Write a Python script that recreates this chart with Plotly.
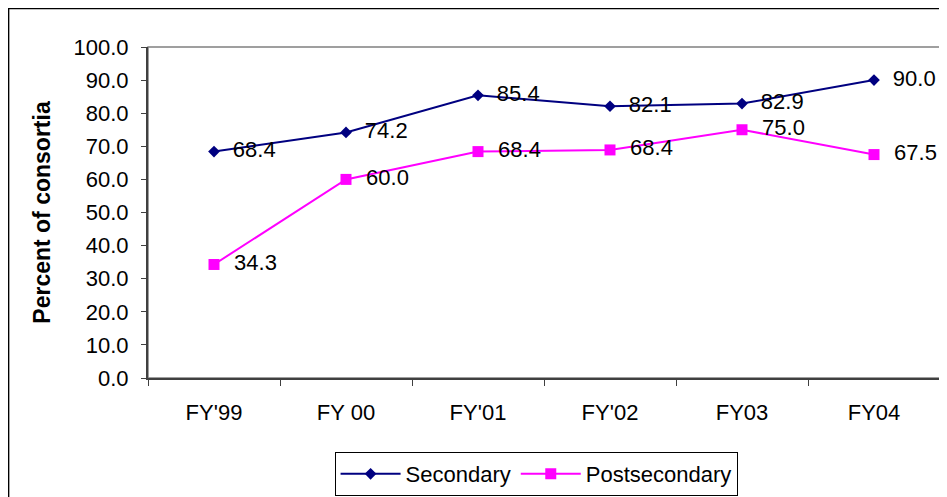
import plotly.graph_objects as go

categories = ["FY'99", "FY 00", "FY'01", "FY'02", "FY03", "FY04"]
secondary = [68.4, 74.2, 85.4, 82.1, 82.9, 90.0]
secondary_labels = ["68.4", "74.2", "85.4", "82.1", "82.9", "90.0"]
postsecondary = [34.3, 60.0, 68.4, 68.9, 75.0, 67.5]
postsecondary_labels = ["34.3", "60.0", "68.4", "68.4", "75.0", "67.5"]
y_ticks = [0, 10, 20, 30, 40, 50, 60, 70, 80, 90, 100]

FONT = "Liberation Sans, Arial, sans-serif"
NB = "\u00a0\u00a0"

fig = go.Figure()
fig.add_trace(go.Scatter(
    x=categories, y=secondary, name="Secondary", mode="lines+markers+text",
    text=secondary_labels, texttemplate=NB + "%{text}", textposition="middle right",
    textfont=dict(size=22, color="black", family=FONT),
    line=dict(color="#000080", width=2),
    marker=dict(symbol="diamond", size=9, color="#000080"),
    cliponaxis=False,
))
fig.add_trace(go.Scatter(
    x=categories, y=postsecondary, name="Postsecondary", mode="lines+markers+text",
    text=postsecondary_labels, texttemplate=NB + "%{text}", textposition="middle right",
    textfont=dict(size=22, color="black", family=FONT),
    line=dict(color="#FF00FF", width=2),
    marker=dict(symbol="square", size=11, color="#FF00FF"),
    cliponaxis=False,
))

# page body has an 8px margin: figure is sized so it ends at the window edge
fig.update_layout(
    width=939, height=489,
    margin=dict(l=140, r=7, t=39, b=119),
    paper_bgcolor="white", plot_bgcolor="white",
    font=dict(family=FONT, size=22, color="black"),
    showlegend=True,
    legend=dict(
        orientation="h", xref="paper", x=0.49, xanchor="center",
        yref="container", y=0.092, yanchor="top",
        bordercolor="black", borderwidth=1, bgcolor="white",
        font=dict(size=22, family=FONT, color="black"),
        traceorder="normal", itemwidth=60,
    ),
    shapes=[
        dict(type="rect", xref="paper", yref="paper", x0=0, x1=1, y0=0, y1=1,
             line=dict(color="#808080", width=1.5), layer="below"),
        dict(type="rect", xref="paper", yref="paper", x0=-0.176, x1=1.05, y0=-0.5, y1=1.116,
             line=dict(color="black", width=1.5), layer="below"),
    ],
)
fig.update_xaxes(
    type="category", range=[-0.5, 5.5], showline=True, linecolor="#404040", linewidth=2,
    ticks="outside", tickson="boundaries", ticklen=6, tickcolor="#404040",
    showgrid=False, zeroline=False, ticklabelstandoff=14,
    tickfont=dict(size=22, family=FONT, color="black"),
)
fig.update_yaxes(
    range=[0, 100], tickvals=y_ticks, tickformat=".1f",
    showline=True, linecolor="#404040", linewidth=2,
    ticks="outside", ticklen=5, tickcolor="#404040",
    showgrid=False, zeroline=False, ticklabelstandoff=8,
    tickfont=dict(size=22, family=FONT, color="black"),
    title=dict(text="<b>Percent of consortia</b>", standoff=16,
               font=dict(size=23, family=FONT, color="black")),
)

fig.write_html("out.html")
